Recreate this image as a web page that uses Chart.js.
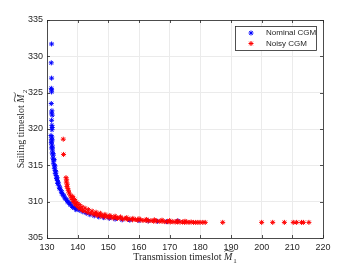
<!DOCTYPE html>
<html lang="en">
<head>
<meta charset="UTF-8">
<title>CGM timeslots</title>
<script src="https://cdn.jsdelivr.net/npm/chart.js"></script>
<style>
  html, body { margin: 0; padding: 0; background: #fff; }
  canvas { display: block; }
</style>
</head>
<body>
<canvas id="chart" width="357" height="268"></canvas>
<script>
// data
const seriesNames = ['Nominal CGM', 'Noisy CGM'];
const xTicks = [130, 140, 150, 160, 170, 180, 190, 200, 210, 220];
const yTicks = [305, 310, 315, 320, 325, 330, 335];

const nominalX = [131.5, 131.4, 131.5, 131.4, 131.5, 131.5, 131.4, 131.6, 131.5, 131.7, 131.5, 131.6, 131.7, 131.6,
  131.3, 131.6, 131.4, 131.7, 131.4, 131.6, 131.5, 131.8, 131.7, 132.0, 131.9, 132.2, 132.1, 132.4, 132.4, 132.7,
  132.7, 133.0, 133.1, 133.4, 133.5, 133.9, 134.1, 134.6, 134.9, 135.5, 135.8, 136.5, 136.9, 137.6, 138.2, 139.0,
  139.8, 140.7, 141.7, 142.8, 144.0, 145.4, 146.9, 148.5, 150.3, 152.2, 154.5, 157.0, 160.0, 163.0, 166.0, 169.0, 172.7,
  131.5, 131.8, 132.0, 132.3, 132.6, 132.9, 133.3, 133.7, 134.2, 134.8, 135.3, 136.1, 136.8, 137.5, 138.4, 139.4];
const nominalY = [331.7, 329.1, 327.0, 325.6, 325.4, 325.1, 323.5, 322.5, 322.2, 321.9, 321.2, 320.5, 320.2, 319.9,
  319.1, 318.9, 318.6, 318.5, 318.1, 317.8, 317.4, 317.1, 316.7, 316.4, 316.0, 315.7, 315.3, 315.0, 314.6, 314.3,
  313.9, 313.6, 313.2, 312.9, 312.5, 312.2, 311.8, 311.5, 311.1, 310.8, 310.5, 310.2, 309.9, 309.7, 309.4, 309.2,
  309.0, 308.8, 308.6, 308.4, 308.2, 308.05, 307.9, 307.8, 307.7, 307.6, 307.5, 307.45, 307.4, 307.35, 307.3, 307.25, 307.35,
  318.2, 317.5, 316.6, 315.8, 314.9, 314.1, 313.3, 312.6, 311.9, 311.3, 310.9, 310.4, 310.0, 309.6, 309.2, 308.9];

const noisyX = [135.3, 135.4, 136.2, 136.4, 136.3, 136.6, 136.5, 136.8, 137.0, 137.2, 137.6, 137.9, 138.2, 138.6,
  139.1, 139.6, 140.2, 140.9, 141.6, 142.4, 143.3, 144.3, 145.3, 146.4, 147.6, 148.8, 150.2, 151.6, 153.0, 154.6,
  156.2, 157.9, 159.6, 161.3, 163.0, 164.8, 166.6, 168.4, 170.2, 171.8, 173.4, 174.9, 176.3, 177.8, 179.2, 180.8,
  181.6, 187.3, 200.0, 203.6, 207.4, 210.3, 211.4, 213.0, 213.6, 215.4,
  138.4, 139.0, 139.7, 140.5, 141.4, 142.4, 143.5, 144.7, 146.0, 147.4, 148.9, 150.5, 152.2, 154.0, 156.0, 158.0,
  160.0, 162.5, 165.0, 167.5, 170.0, 172.5, 175.0,
  145.9, 147.0, 148.2, 149.5, 150.9, 152.4, 153.8, 155.4, 157.0, 158.8, 160.6, 162.2, 163.9, 165.7, 167.5, 169.3,
  171.0, 172.6, 174.2, 175.6, 177.0, 178.5, 179.9];
const noisyY = [318.6, 316.5, 313.3, 313.0, 312.7, 312.4, 312.1, 311.8, 311.5, 311.2, 310.9, 310.6, 310.3, 310.0,
  309.7, 309.5, 309.2, 309.0, 308.8, 308.7, 308.5, 308.4, 308.25, 308.1, 308.0, 307.9, 307.8, 307.75, 307.7, 307.6,
  307.55, 307.5, 307.45, 307.4, 307.35, 307.3, 307.3, 307.25, 307.2, 307.2, 307.2, 307.15, 307.15, 307.15, 307.15, 307.15,
  307.15, 307.15, 307.15, 307.15, 307.15, 307.15, 307.15, 307.15, 307.15, 307.15,
  310.7, 310.3, 309.9, 309.6, 309.3, 309.1, 308.9, 308.7, 308.55, 308.4, 308.25, 308.1, 308.0, 307.9, 307.8, 307.7,
  307.65, 307.55, 307.5, 307.45, 307.4, 307.35, 307.3,
  308.35, 308.25, 308.1, 308.0, 307.9, 307.85, 307.75, 307.7, 307.6, 307.55, 307.5, 307.45, 307.4, 307.35, 307.3, 307.25,
  307.25, 307.2, 307.2, 307.2, 307.2, 307.15, 307.15];

const toPoints = (xs, ys) => xs.map((x, i) => ({ x: x, y: ys[i] }));

// box, inward ticks, axis titles and legend, matlab style
const matlabDecor = {
  id: 'matlabDecor',
  afterDraw(chart) {
    const ctx = chart.ctx;
    const a = chart.chartArea;
    const sx = chart.scales.x, sy = chart.scales.y;
    ctx.save();
    ctx.strokeStyle = '#262626';
    ctx.lineWidth = 0.8;
    ctx.beginPath();
    xTicks.forEach(t => {
      const px = Math.round(sx.getPixelForValue(t)) + 0.5;
      ctx.moveTo(px, a.bottom); ctx.lineTo(px, a.bottom - 3);
      ctx.moveTo(px, a.top); ctx.lineTo(px, a.top + 3);
    });
    yTicks.forEach(t => {
      const py = Math.round(sy.getPixelForValue(t)) + 0.5;
      ctx.moveTo(a.left, py); ctx.lineTo(a.left + 3, py);
      ctx.moveTo(a.right, py); ctx.lineTo(a.right - 3, py);
    });
    ctx.stroke();
    ctx.strokeRect(Math.round(a.left) + 0.5, Math.round(a.top) + 0.5,
      Math.round(a.right - a.left), Math.round(a.bottom - a.top));

    // axis titles
    const drawTitle = (pre, sub) => {
      ctx.font = '10px "Liberation Serif", serif';
      const w1 = ctx.measureText(pre).width;
      ctx.font = 'italic 10px "Liberation Serif", serif';
      const wm = ctx.measureText('M').width;
      ctx.font = '7px "Liberation Serif", serif';
      const ws = ctx.measureText(sub).width;
      const total = w1 + wm + ws + 1;
      let x0 = -total / 2;
      ctx.fillStyle = '#262626';
      ctx.textBaseline = 'alphabetic';
      ctx.textAlign = 'left';
      ctx.font = '10px "Liberation Serif", serif';
      ctx.fillText(pre, x0, 0);
      ctx.font = 'italic 10px "Liberation Serif", serif';
      ctx.fillText('M', x0 + w1, 0);
      ctx.font = '7px "Liberation Serif", serif';
      ctx.fillText(sub, x0 + w1 + wm + 1, 2.5);
      // wide tilde over M
      const tx = x0 + w1 + 0.5, tw = wm + 1.5, ty = -9.5;
      ctx.beginPath();
      ctx.lineWidth = 0.8;
      ctx.moveTo(tx, ty + 1);
      ctx.bezierCurveTo(tx + tw * 0.3, ty - 2.5, tx + tw * 0.7, ty + 3.5, tx + tw, ty - 0.5);
      ctx.stroke();
    };
    ctx.save();
    ctx.translate((a.left + a.right) / 2, 260);
    drawTitle('Transmission timeslot ', '1');
    ctx.restore();
    ctx.save();
    ctx.translate(24, (a.top + a.bottom) / 2);
    ctx.rotate(-Math.PI / 2);
    drawTitle('Sailing timeslot ', '2');
    ctx.restore();

    // legend box
    const lx = 235.5, ly = 26.5, lw = 81, lh = 24;
    ctx.fillStyle = '#fff';
    ctx.fillRect(lx, ly, lw, lh);
    ctx.strokeStyle = '#262626';
    ctx.lineWidth = 0.8;
    ctx.strokeRect(lx, ly, lw, lh);
    ctx.font = '8px "Liberation Sans", Arial, sans-serif';
    ctx.textBaseline = 'middle';
    ctx.textAlign = 'left';
    chart.data.datasets.forEach((ds, i) => {
      const cy = ly + 6.5 + i * 10.5;
      ctx.lineWidth = 1;
      ctx.strokeStyle = ds.borderColor;
      ctx.beginPath();
      const r = 2.5, cx = 251;
      ctx.moveTo(cx - r, cy); ctx.lineTo(cx + r, cy);
      ctx.moveTo(cx, cy - r); ctx.lineTo(cx, cy + r);
      const d = r * 0.707;
      ctx.moveTo(cx - d, cy - d); ctx.lineTo(cx + d, cy + d);
      ctx.moveTo(cx - d, cy + d); ctx.lineTo(cx + d, cy - d);
      ctx.stroke();
      ctx.fillStyle = '#262626';
      ctx.fillText(ds.label, 266, cy);
    });
    ctx.restore();
  }
};

const tickFont = { family: '"Liberation Sans", Arial, sans-serif', size: 9 };

new Chart(document.getElementById('chart'), {
  type: 'scatter',
  data: {
    datasets: [
      {
        label: seriesNames[0],
        data: toPoints(nominalX, nominalY),
        pointStyle: 'star',
        pointRadius: 2.5,
        borderWidth: 1,
        borderColor: '#0000ff',
        backgroundColor: '#0000ff',
        order: 2
      },
      {
        label: seriesNames[1],
        data: toPoints(noisyX, noisyY),
        pointStyle: 'star',
        pointRadius: 2.5,
        borderWidth: 1,
        borderColor: '#ff0000',
        backgroundColor: '#ff0000',
        order: 1
      }
    ]
  },
  options: {
    responsive: false,
    animation: false,
    devicePixelRatio: 1,
    layout: { padding: { top: 20, right: 34, left: 0, bottom: 0 } },
    plugins: { legend: { display: false }, tooltip: { enabled: false } },
    scales: {
      x: {
        type: 'linear',
        min: 130, max: 220,
        afterBuildTicks: s => { s.ticks = xTicks.map(v => ({ value: v })); },
        afterFit: s => { s.height = 30; },
        ticks: { font: tickFont, color: '#262626', padding: 4, maxRotation: 0 },
        grid: { color: '#ebebeb', drawTicks: false },
        border: { display: false }
      },
      y: {
        type: 'linear',
        min: 305, max: 335,
        afterBuildTicks: s => { s.ticks = yTicks.map(v => ({ value: v })); },
        afterFit: s => { s.width = 47; },
        ticks: { font: tickFont, color: '#262626', padding: 4 },
        grid: { color: '#ebebeb', drawTicks: false },
        border: { display: false }
      }
    }
  },
  plugins: [matlabDecor]
});
</script>
</body>
</html>
